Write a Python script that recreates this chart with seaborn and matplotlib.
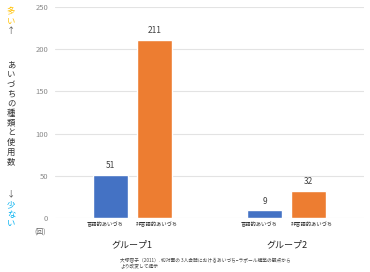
import matplotlib
matplotlib.use("Agg")
import matplotlib.pyplot as plt
import seaborn as sns
import pandas as pd

groups = ["グループ1", "グループ2"]
types = ["言語的あいづち", "非言語的あいづち"]
verbal = [51, 9]
nonverbal = [211, 32]
yticks = [0, 50, 100, 150, 200, 250]
colors = ["#4472C4", "#ED7D31"]

sns.set_theme(style="white")
plt.rcParams['font.family'] = ['Noto Sans CJK JP', 'DejaVu Sans']

df = pd.DataFrame({
    "group": groups * 2,
    "type": [types[0]] * 2 + [types[1]] * 2,
    "value": verbal + nonverbal,
})

W, H = 370, 272
fig = plt.figure(figsize=(W / 100, H / 100), dpi=100)
ax = fig.add_axes([0.1486, 0.1985, 0.835, 0.776])

sns.barplot(data=df, x="group", y="value", hue="type", order=groups,
            hue_order=types, palette=colors, width=0.57, gap=0.2,
            saturation=1, ax=ax, legend=False, zorder=3)

ax.set_ylim(0, 250)
ax.set_xlim(-0.5, 1.5)
ax.set_yticks(yticks)
ax.set_yticklabels([str(t) for t in yticks], fontsize=5.5, color="#8a8a8a")
ax.tick_params(axis="y", length=0, pad=5)
ax.grid(axis="y", color="#e3e3e3", linewidth=0.8, zorder=0)
for s in ax.spines.values():
    s.set_visible(False)
ax.set_xlabel("")
ax.set_ylabel("")
ax.set_xticks(range(len(groups)))
ax.set_xticklabels(groups, fontsize=6.5, color="#222222")
ax.tick_params(axis="x", length=0, pad=16)

# value labels and per-bar category labels
shifts = [-4, 2]
for container, t, sh in zip(ax.containers, types, shifts):
    for bar in container:
        cx = bar.get_x() + bar.get_width() / 2
        h = bar.get_height()
        ax.annotate(f"{int(round(h))}", (cx, h), xytext=(0, 3.5),
                    textcoords="offset points", ha="center", va="bottom",
                    fontsize=6, color="#404040")
        ax.annotate(t, (cx, 0), xytext=(sh, -3), textcoords="offset points",
                    ha="center", va="top", fontsize=3.8, color="#333333",
                    annotation_clip=False)

# unit
fig.text(0.108, 0.148, "(回)", fontsize=5, color="#666666", ha="center", va="center")

# vertical y label pieces, one character per line
def vtext(y_px_top, s, color, step=9.7, size=6.0):
    for i, ch in enumerate(s):
        y = 1 - (y_px_top + i * step) / H
        fig.text(0.030, y, ch, fontsize=size, color=color, ha="center", va="center")

vtext(12, "多い", "#FFC000", step=10)
fig.text(0.030, 1 - 31 / H, "↑", fontsize=6, color="#555555", ha="center", va="center")
vtext(65, "あいづちの種類と使用数", "#333333")
fig.text(0.030, 1 - 194 / H, "↓", fontsize=6, color="#555555", ha="center", va="center")
vtext(205, "少ない", "#00B0F0", step=9.0)

# citation
fig.text(0.325, 0.030, "大塚容子（2011）. 初対面の 3人会話におけるあいづち−ラポール構築の観点から\nより改変して提示",
         fontsize=3.4, color="#444444", ha="left", va="center", linespacing=1.3)

fig.savefig("out.png", dpi=100)
